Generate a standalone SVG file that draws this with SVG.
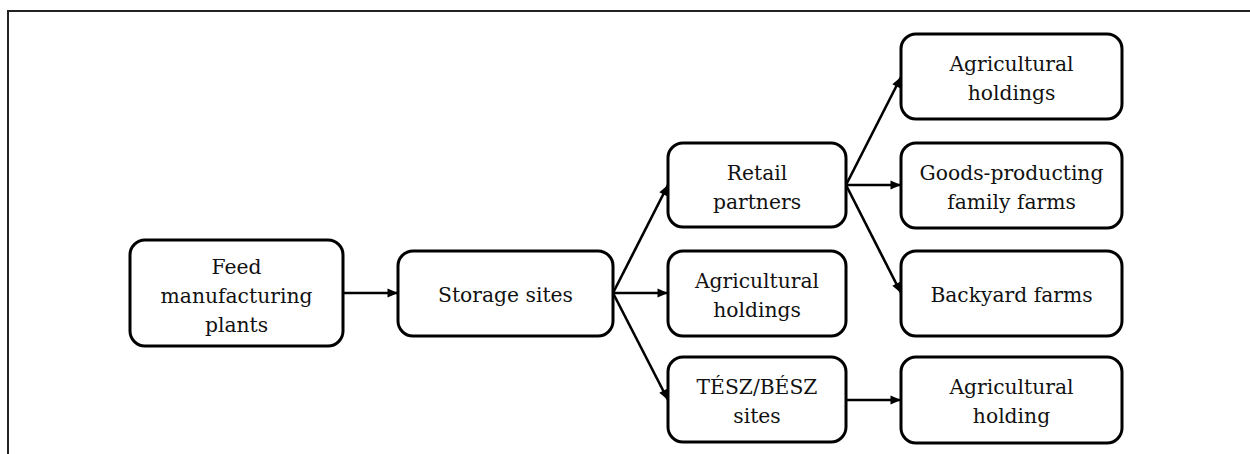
<svg xmlns="http://www.w3.org/2000/svg" width="1250" height="454" viewBox="0 0 1250 454">
<style>
.node rect{fill:#fff;stroke:#000;stroke-width:3}
.node text{font-family:"DejaVu Serif","Liberation Serif",serif;font-size:20.3px;fill:#111;text-anchor:middle}
.conn path{stroke:#000;stroke-width:2.6;fill:none;marker-end:url(#ah)}
</style>
<defs>
<marker id="ah" markerUnits="userSpaceOnUse" markerWidth="12" markerHeight="10" viewBox="0 0 12 10" refX="11" refY="5" orient="auto">
<path d="M0.5,0.6 L11,5 L0.5,9.4 Z" fill="#000"/>
</marker>
</defs>
<rect width="1250" height="454" fill="#fff"/>
<path d="M8,454 V11 H1250" fill="none" stroke="#222" stroke-width="2"/>
<g class="conn">
<path d="M343,293 H398"/>
<path d="M613,293 L668,185"/>
<path d="M613,293 H668"/>
<path d="M613,293 L668,400"/>
<path d="M846,185 L901,77"/>
<path d="M846,185 H901"/>
<path d="M846,185 L901,293"/>
<path d="M846,400 H901"/>
</g>
<g id="feed" class="node"><rect x="130" y="240" width="213" height="106" rx="15"/>
<text x="236.5" y="273.5">Feed</text><text x="236.5" y="303">manufacturing</text><text x="236.5" y="332">plants</text></g>
<g id="storage" class="node"><rect x="398" y="251" width="215" height="85" rx="15"/>
<text x="505.5" y="301.5">Storage sites</text></g>
<g id="retail" class="node"><rect x="668" y="143" width="178" height="84" rx="15"/>
<text x="757" y="179.5">Retail</text><text x="757" y="208.5">partners</text></g>
<g id="agri1" class="node"><rect x="668" y="251" width="178" height="85" rx="15"/>
<text x="757" y="287.5">Agricultural</text><text x="757" y="316.5">holdings</text></g>
<g id="tesz" class="node"><rect x="668" y="357" width="178" height="85" rx="15"/>
<text x="757" y="393.5">TÉSZ/BÉSZ</text><text x="757" y="422.5">sites</text></g>
<g id="agri2" class="node"><rect x="901" y="34" width="221" height="85" rx="15"/>
<text x="1011.5" y="70.5">Agricultural</text><text x="1011.5" y="99.5">holdings</text></g>
<g id="goods" class="node"><rect x="901" y="143" width="221" height="85" rx="15"/>
<text x="1011.5" y="179.5">Goods-producting</text><text x="1011.5" y="208.5">family farms</text></g>
<g id="backyard" class="node"><rect x="901" y="251" width="221" height="85" rx="15"/>
<text x="1011.5" y="301.5">Backyard farms</text></g>
<g id="agri3" class="node"><rect x="901" y="357" width="221" height="86" rx="15"/>
<text x="1011.5" y="393.5">Agricultural</text><text x="1011.5" y="422.5">holding</text></g>
</svg>
